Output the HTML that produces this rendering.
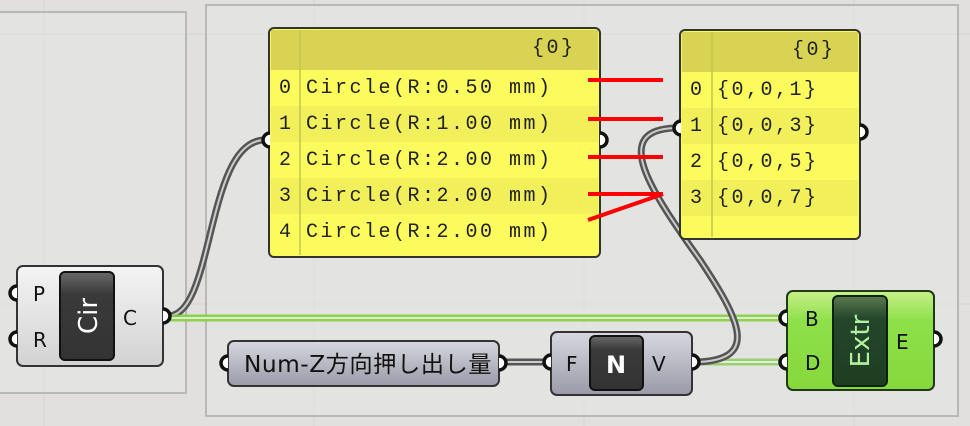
<!DOCTYPE html>
<html><head><meta charset="utf-8"><style>
html,body{margin:0;padding:0;width:970px;height:426px;overflow:hidden;background:#e1e0de}
svg{display:block}
.mono{font-family:"Liberation Mono",monospace;font-size:20px;letter-spacing:2.5px;fill:#222}
.sans{font-family:"DejaVu Sans","Liberation Sans",sans-serif}
</style></head><body>
<svg width="970" height="426" viewBox="0 0 970 426" xmlns="http://www.w3.org/2000/svg">
<defs>
<linearGradient id="wg" x1="0" y1="0" x2="0" y2="1"><stop offset="0" stop-color="#f4f4f4"/><stop offset="1" stop-color="#d2d2d2"/></linearGradient>
<linearGradient id="gg" x1="0" y1="0" x2="0" y2="1"><stop offset="0" stop-color="#c8f08a"/><stop offset="0.3" stop-color="#8ee04a"/><stop offset="1" stop-color="#86d83c"/></linearGradient>
<linearGradient id="pg" x1="0" y1="0" x2="0" y2="1"><stop offset="0" stop-color="#d8d8e0"/><stop offset="1" stop-color="#9a9aa8"/></linearGradient>
<linearGradient id="bg" x1="0" y1="0" x2="0" y2="1"><stop offset="0" stop-color="#6a6a6a"/><stop offset="0.25" stop-color="#3a3a3a"/><stop offset="1" stop-color="#333"/></linearGradient>
<linearGradient id="dg" x1="0" y1="0" x2="0" y2="1"><stop offset="0" stop-color="#5a7a50"/><stop offset="0.25" stop-color="#24462a"/><stop offset="1" stop-color="#1e3e22"/></linearGradient>
</defs>
<g stroke="#d4d3d1" stroke-width="1">
<line x1="44" y1="0" x2="44" y2="426"/><line x1="314" y1="0" x2="314" y2="426"/><line x1="584" y1="0" x2="584" y2="426"/><line x1="854" y1="0" x2="854" y2="426"/>
<line x1="0" y1="34" x2="970" y2="34"/><line x1="0" y1="304" x2="970" y2="304"/>
</g>
<rect x="-5" y="12" width="191" height="381" fill="#e6e5e3" fill-opacity="0.5" stroke="#b8b8b6" stroke-width="2"/>
<rect x="206" y="5" width="752" height="411" fill="#e6e5e3" fill-opacity="0.5" stroke="#b8b8b6" stroke-width="2"/>
<g fill="none">
<path d="M168,316 C215,316 205,140 265,140" stroke="#555" stroke-width="7"/>
<path d="M168,316 C215,316 205,140 265,140" stroke="#ccc" stroke-width="2"/>
<path d="M168,318 L783,318" stroke="#86cf3e" stroke-width="7" opacity="0.9"/>
<path d="M168,318 L783,318" stroke="#ddeed0" stroke-width="2"/>
<path d="M503,362 L546,362" stroke="#555" stroke-width="7"/>
<path d="M503,362 L546,362" stroke="#ccc" stroke-width="2"/>
<path d="M697,362 L783,362" stroke="#9ad070" stroke-width="7"/>
<path d="M697,362 L783,362" stroke="#e0efd8" stroke-width="2"/>
<path d="M697,362 C760,360 740,320 700,260 C650,190 610,130 675,128" stroke="#555" stroke-width="7"/>
<path d="M697,362 C760,360 740,320 700,260 C650,190 610,130 675,128" stroke="#ccc" stroke-width="2"/>
</g>
<rect x="269" y="28" width="331" height="229" rx="5" fill="#fbfb5e" stroke="#333" stroke-width="2"/>
<rect x="271" y="30" width="327" height="40" fill="#d8d352"/>
<rect x="271" y="106" width="327" height="36" fill="#f2f05a"/>
<rect x="271" y="178" width="327" height="36" fill="#f2f05a"/>
<line x1="300" y1="30" x2="300" y2="255" stroke="#c8c44a" stroke-width="1.5"/>
<text x="532" y="53" class="mono" font-size="17" letter-spacing="1">{0}</text>
<g class="mono">
<text x="279" y="93">0</text><text x="306" y="93">Circle(R:0.50 mm)</text>
<text x="279" y="129">1</text><text x="306" y="129">Circle(R:1.00 mm)</text>
<text x="279" y="165">2</text><text x="306" y="165">Circle(R:2.00 mm)</text>
<text x="279" y="201">3</text><text x="306" y="201">Circle(R:2.00 mm)</text>
<text x="279" y="237">4</text><text x="306" y="237">Circle(R:2.00 mm)</text>
</g>
<rect x="680" y="30" width="180" height="209" rx="5" fill="#fbfb5e" stroke="#333" stroke-width="2"/>
<rect x="682" y="32" width="176" height="40" fill="#d8d352"/>
<rect x="682" y="108" width="176" height="36" fill="#f2f05a"/>
<rect x="682" y="180" width="176" height="36" fill="#f2f05a"/>
<line x1="712" y1="32" x2="712" y2="237" stroke="#c8c44a" stroke-width="1.5"/>
<text x="792" y="55" class="mono" font-size="17" letter-spacing="1">{0}</text>
<g class="mono">
<text x="690" y="95">0</text><text x="717" y="95">{0,0,1}</text>
<text x="690" y="131">1</text><text x="717" y="131">{0,0,3}</text>
<text x="690" y="167">2</text><text x="717" y="167">{0,0,5}</text>
<text x="690" y="203">3</text><text x="717" y="203">{0,0,7}</text>
</g>
<g fill="#fff" stroke="#111" stroke-width="3.5">
<path d="M270,133 a7,7 0 0 0 0,14"/><path d="M600,133 a7,7 0 0 1 0,14"/>
<path d="M681,121 a7,7 0 0 0 0,14"/><path d="M860,125 a7,7 0 0 1 0,14"/>
</g>
<g stroke="#f00" stroke-width="4">
<line x1="588" y1="80" x2="663" y2="80"/>
<line x1="588" y1="119" x2="663" y2="119"/>
<line x1="588" y1="157" x2="663" y2="157"/>
<line x1="588" y1="194" x2="663" y2="194"/>
<line x1="588" y1="220" x2="663" y2="194"/>
</g>
<rect x="17" y="266" width="146" height="100" rx="6" fill="url(#wg)" stroke="#333" stroke-width="2"/>
<rect x="60" y="272" width="54" height="88" rx="5" fill="url(#bg)" stroke="#111" stroke-width="2"/>
<text transform="translate(97,316) rotate(-90)" text-anchor="middle" class="sans" font-size="26" fill="#fff">Cir</text>
<text x="33" y="301" class="sans" font-size="20" fill="#111">P</text>
<text x="33" y="347" class="sans" font-size="20" fill="#111">R</text>
<text x="123" y="325" class="sans" font-size="20" fill="#111">C</text>
<rect x="228" y="341" width="271" height="45" rx="6" fill="url(#pg)" stroke="#333" stroke-width="2"/>
<text x="244" y="372" font-family="'DejaVu Sans','Noto Sans CJK JP',sans-serif" font-size="23" letter-spacing="0.5" fill="#111" textLength="248" lengthAdjust="spacingAndGlyphs">Num-Z方向押し出し量</text>
<rect x="551" y="332" width="141" height="63" rx="6" fill="url(#pg)" stroke="#333" stroke-width="2"/>
<rect x="590" y="336" width="53" height="54" rx="5" fill="url(#bg)" stroke="#111" stroke-width="2"/>
<text x="616" y="373" text-anchor="middle" class="sans" font-size="24" font-weight="bold" fill="#fff">N</text>
<text x="566" y="371" class="sans" font-size="20" fill="#111">F</text>
<text x="652" y="371" class="sans" font-size="20" fill="#111">V</text>
<rect x="787" y="291" width="147" height="99" rx="6" fill="url(#gg)" stroke="#1f3a14" stroke-width="2"/>
<rect x="833" y="296" width="54" height="90" rx="5" fill="url(#dg)" stroke="#0d220d" stroke-width="2"/>
<text transform="translate(869,341) rotate(-90)" text-anchor="middle" class="sans" font-size="26" fill="#b5f0a0">Extr</text>
<text x="805" y="326" class="sans" font-size="20" fill="#111">B</text>
<text x="805" y="370" class="sans" font-size="20" fill="#111">D</text>
<text x="896" y="349" class="sans" font-size="20" fill="#111">E</text>
<g fill="#fff" stroke="#111" stroke-width="3.5">
<path d="M17,286 a7,7 0 0 0 0,14"/><path d="M17,332 a7,7 0 0 0 0,14"/>
<path d="M163,309 a7,7 0 0 1 0,14"/>
<path d="M228,356 a7,7 0 0 0 0,14"/><path d="M499,356 a7,7 0 0 1 0,14"/>
<path d="M551,355 a7,7 0 0 0 0,14"/><path d="M692,355 a7,7 0 0 1 0,14"/>
<path d="M787,311 a7,7 0 0 0 0,14"/><path d="M787,355 a7,7 0 0 0 0,14"/>
<path d="M934,332 a7,7 0 0 1 0,14"/>
</g>
</svg>
</body></html>
